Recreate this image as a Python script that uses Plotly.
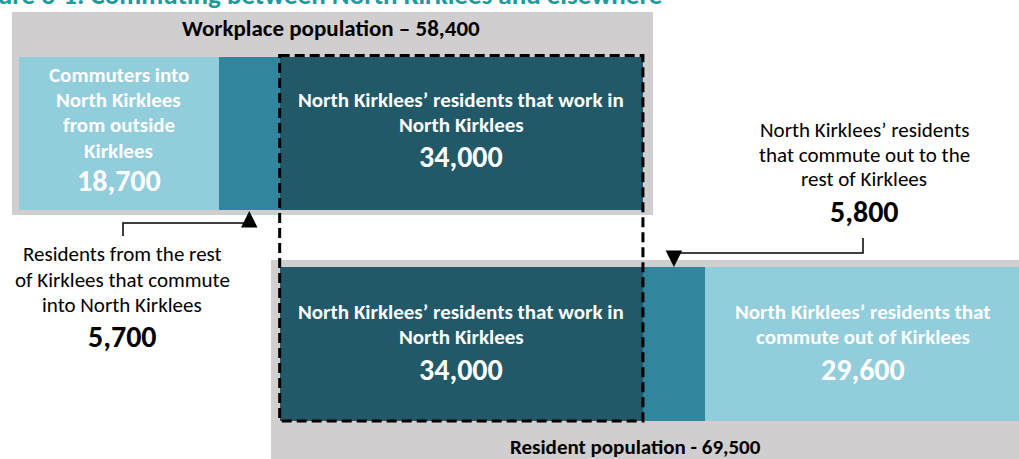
import plotly.graph_objects as go

# Jobs located in North Kirklees, split by where the worker lives
work_names = [
    ["Commuters into", "North Kirklees", "from outside", "Kirklees"],
    ["Residents from the rest", "of Kirklees that commute", "into North Kirklees"],
    ["North Kirklees’ residents that work in", "North Kirklees"],
]
work_values = [18700, 5700, 34000]
workplace_total = 58400

# Working residents of North Kirklees, split by where they work
res_names = [
    ["North Kirklees’ residents that work in", "North Kirklees"],
    ["North Kirklees’ residents", "that commute out to the", "rest of Kirklees"],
    ["North Kirklees’ residents that", "commute out of Kirklees"],
]
res_values = [34000, 5800, 29600]
resident_total = 69500

LIGHT, MID, DARK = "#92CDDC", "#31859C", "#215968"
GREY = "#D0CECE"
TITLE_TEAL = "#1A9BA1"
FONT = "Carlito, Calibri, Lato, sans-serif"

W, H = 1019, 459
PEOPLE_PER_PX = 93.6
X_ORIGIN_PX = 19


def px(p):
    """Horizontal pixel position -> axis value (people)."""
    return (p - X_ORIGIN_PX) * PEOPLE_PER_PX


# cumulative starting points of each segment
work_base = [sum(work_values[:i]) for i in range(len(work_values))]
res_start = work_base[2]  # residents working locally line up with the same jobs
res_base = [res_start + sum(res_values[:i]) for i in range(len(res_values))]

WORK_Y, WORK_H = 133.5, 153
RES_Y, RES_H = 344, 154

fig = go.Figure()
fig.add_trace(go.Bar(
    orientation="h", y=[WORK_Y] * 3, x=work_values, base=work_base,
    width=[WORK_H] * 3, marker=dict(color=[LIGHT, MID, DARK], line=dict(width=0)),
    hoverinfo="skip", showlegend=False,
))
fig.add_trace(go.Bar(
    orientation="h", y=[RES_Y] * 3, x=res_values, base=res_base,
    width=[RES_H] * 3, marker=dict(color=[DARK, MID, LIGHT], line=dict(width=0)),
    hoverinfo="skip", showlegend=False,
))

shapes = [
    # grey panels behind each bar
    dict(type="rect", xref="x", yref="y", x0=px(12), x1=px(653), y0=12, y1=215,
         fillcolor=GREY, line=dict(width=0), layer="below"),
    dict(type="rect", xref="x", yref="y", x0=px(271), x1=px(1030), y0=260, y1=470,
         fillcolor=GREY, line=dict(width=0), layer="below"),
    # dashed outline linking the shared group of local workers
    dict(type="rect", xref="x", yref="y", x0=work_base[2], x1=work_base[2] + work_values[2],
         y0=55.5, y1=421, line=dict(color="black", width=3, dash="10px,5px"),
         fillcolor="rgba(0,0,0,0)", layer="above"),
]

# connector lines from the callouts to the small segments
in_mid = work_base[1] + work_values[1] / 2
out_mid = res_base[1] + res_values[1] / 2
shapes.append(dict(type="path", xref="x", yref="y",
                   path=f"M {px(123)},236 L {px(123)},223 L {in_mid},223",
                   line=dict(color="black", width=1.5)))
shapes.append(dict(type="path", xref="x", yref="y",
                   path=f"M {px(863)},238 L {px(863)},253 L {out_mid},253",
                   line=dict(color="black", width=1.5)))

annotations = []
for tip_y, tail_y, xm in [(211, 223, in_mid), (267, 253, out_mid)]:
    annotations.append(dict(
        x=xm, y=tip_y, ax=xm, ay=tail_y, xref="x", yref="y", axref="x", ayref="y",
        text="", showarrow=True, arrowhead=2, arrowsize=2.2, arrowwidth=1.5,
        arrowcolor="black", standoff=0, startstandoff=0,
    ))


def text_line(x, baseline, txt, size, color="black", bold=False):
    annotations.append(dict(
        x=x, y=baseline - 0.37 * size, xref="x", yref="y",
        text=f"<b>{txt}</b>" if bold else txt, showarrow=False,
        xanchor="center", yanchor="middle",
        font=dict(family=FONT, size=size, color=color),
    ))


def block(x, baselines, lines, value, size, num_size, color, bold):
    for b, ln in zip(baselines[:-1], lines):
        text_line(x, b, ln, size, color, bold)
    text_line(x, baselines[-1], f"{value:,}", num_size, color, True)


SIZE, NUM = 21, 30

# workplace bar
block((work_base[0] + work_values[0] / 2), [83, 108, 133, 159, 192],
      work_names[0], work_values[0], SIZE, NUM, "white", True)
block(work_base[2] + work_values[2] / 2, [108, 133, 168],
      work_names[2], work_values[2], SIZE, NUM, "white", True)
block(px(122), [262, 288, 313, 348], work_names[1], work_values[1], SIZE, NUM, "black", False)

# resident bar
block(res_base[0] + res_values[0] / 2, [320, 345, 381],
      res_names[0], res_values[0], SIZE, NUM, "white", True)
block(px(864), [138, 163, 187, 223], res_names[1], res_values[1], SIZE, NUM, "black", False)
block(res_base[2] + res_values[2] / 2, [320, 345, 381],
      res_names[2], res_values[2], SIZE, NUM, "white", True)

# panel headings
text_line(px(331), 37, f"Workplace population – {workplace_total:,}", 23, "black", True)
text_line(px(635), 455, f"Resident population - {resident_total:,}", 21, "black", True)

# figure caption running off the top of the page
CAP = 27
annotations.append(dict(
    x=664 / W, y=1 + (CAP * 0.37 - 4) / H, xref="paper", yref="paper",
    xanchor="right", yanchor="middle",
    text="<b>Figure 3-1: Commuting between North Kirklees and elsewhere</b>",
    showarrow=False, font=dict(family=FONT, size=CAP, color=TITLE_TEAL),
))

fig.update_layout(
    width=W, height=H, margin=dict(l=0, r=0, t=0, b=0),
    paper_bgcolor="white", plot_bgcolor="white",
    barmode="overlay", bargap=0,
    shapes=shapes, annotations=annotations,
    xaxis=dict(range=[px(0), px(W)], visible=False, fixedrange=True),
    yaxis=dict(range=[H, 0], visible=False, fixedrange=True),
)

fig.write_html("out.html")
